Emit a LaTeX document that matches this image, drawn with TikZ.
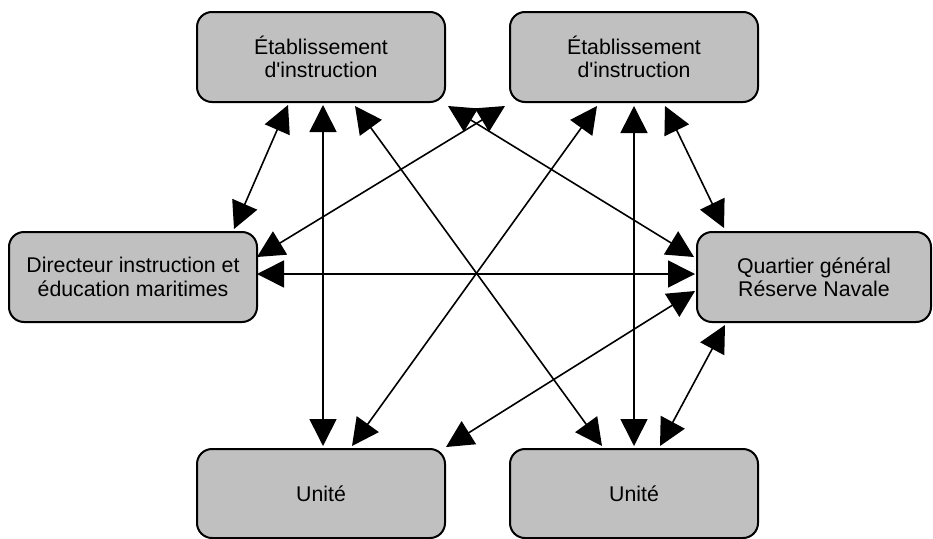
\documentclass[tikz,border=0pt]{standalone}
\usepackage{fontspec}
\setmainfont{Liberation Sans}
\usetikzlibrary{arrows.meta,calc}
\definecolor{boxgray}{RGB}{192,192,192}
\begin{document}
\begin{tikzpicture}[x=1pt,y=-1pt,
  box/.style={draw=black, line width=2pt, fill=boxgray, rounded corners=15pt,
    minimum width=248pt, minimum height=90pt, inner sep=0pt, outer sep=0pt,
    align=center, font=\fontsize{21.3}{23.3}\selectfont},
  link/.style={line width=1.6pt,
    {Triangle[length=27pt,width=27pt]}-{Triangle[length=27pt,width=27pt]}}]
\useasboundingbox (0,0) rectangle (933,538);
\node[box] (TL) at (321,57) {Établissement\\d\textquotesingle instruction};
\node[box] (TR) at (634,57) {Établissement\\d\textquotesingle instruction};
\node[box] (L) at (133,277) {Directeur instruction et\\éducation maritimes};
\node[box, minimum width=234pt] (R) at (814,277) {Quartier général\\Réserve Navale};
\node[box, minimum height=89pt] (BL) at (321,493.5) {Unité};
\node[box, minimum height=89pt] (BR) at (634,493.5) {Unité};
% connectors
\draw[link] ($(L.north)+(101,-3)$) -- ($(TL.south)+(-33,3)$);
\draw[link] ($(TL.south)+(2,3)$) -- ($(BL.north)+(2,-3)$);
\draw[link] ($(TL.south)+(34,4)$) -- ($(BR.north)+(-32,-3)$);
\draw[link] ($(TR.south)+(-37,4)$) -- ($(BL.north)+(31,-3)$);
\draw[link] ($(TR.south)+(0,4)$) -- ($(BR.north)+(0,-3)$);
\draw[link] ($(TR.south)+(31,4)$) -- ($(R.north)+(-90,-4)$);
\draw[link] ($(L.east)+(0,-20)$) -- ($(TR.south)+(-129,4)$);
\draw[link] ($(R.west)+(-3,-20)$) -- ($(TL.south)+(127,4)$);
\draw[link] ($(L.east)+(0,-3)$) -- ($(R.west)+(-2,-3)$);
\draw[link] ($(R.west)+(-2,14)$) -- ($(BL.north)+(125,-2)$);
\draw[link] ($(R.south)+(-89,3)$) -- ($(BR.north)+(26,-3)$);
\end{tikzpicture}
\end{document}
